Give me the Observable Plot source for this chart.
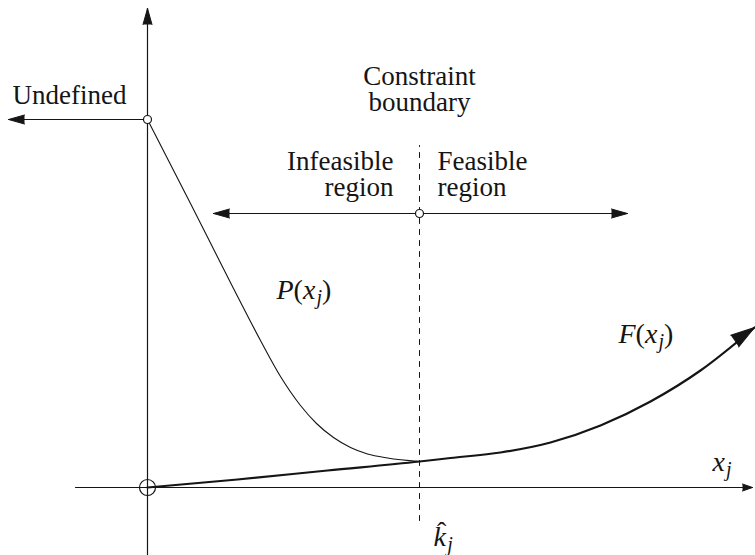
<!DOCTYPE html>
<html>
<head>
<meta charset="utf-8">
<script src="https://cdn.jsdelivr.net/npm/d3@7"></script>
<script src="https://cdn.jsdelivr.net/npm/@observablehq/plot@0.6"></script>
<style>
  body { margin: 0; font-family: 'Liberation Serif', serif; }
</style>
</head>
<body>
<div id="chart"></div>
<script>
// Diagram units: origin of the x_j axis at (0, 0).

// Penalty function P(x_j): falls from the undefined point onto F at the boundary
const penaltyX = [0, 43, 86, 113, 133, 153, 169, 186, 203, 220, 240, 272];
const penaltyY = [368, 284, 199, 147, 111, 82, 64, 50, 40, 33.5, 29.5, 26];

// Objective F(x_j): slow rise, then growing past the boundary
const objectiveX = [0, 90, 180, 272, 303, 353, 403, 453, 503, 553, 607];
const objectiveY = [0, 8, 17, 26, 29.5, 35, 45, 62, 86, 117, 160];

// Axes extents
const xAxisX = [-72, 605];
const yAxisY = [-68, 479];

// Constraint boundary k̂_j and its span
const boundaryX = 272;
const boundaryY = [-33, 342];

// Level of the undefined point and of the feasibility arrow
const undefinedY = 368;
const undefinedTipX = -139;
const regionY = 274;
const regionX = [66, 480];

// Text labels
const plainLabels = [
  {text: "Undefined", x: -135, y: 384, anchor: "start"},
  {text: "Constraint\nboundary", x: 272, y: 377, anchor: "middle"},
  {text: "Infeasible\nregion", x: 246, y: 292, anchor: "end"},
  {text: "Feasible\nregion", x: 290, y: 292, anchor: "start"}
];
const mathLabels = [
  {text: "P(x_j)", x: 129, y: 189},
  {text: "F(x_j)", x: 471, y: 145},
  {text: "x_j", x: 565, y: 17},
  {text: "^k_j", x: 286, y: -58}
];

const penalty = penaltyX.map((x, i) => ({x, y: penaltyY[i]}));
const objective = objectiveX.map((x, i) => ({x, y: objectiveY[i]}));

// Direction of the F arrowhead from the last two curve points (compass degrees)
const last = objective.length - 1;
const fAngle = Math.atan2(objective[last].x - objective[last - 1].x,
                          objective[last].y - objective[last - 1].y) * 180 / Math.PI + 4;

const axisHeads = [
  {x: 0, y: yAxisY[1], rotate: 0},
  {x: undefinedTipX, y: undefinedY, rotate: 270},
  {x: regionX[0], y: regionY, rotate: 270},
  {x: regionX[1], y: regionY, rotate: 90}
];

const ink = "#151515";
const serif = "Liberation Serif, serif";

const chart = Plot.plot({
  width: 755,
  height: 555,
  margin: 0,
  x: {domain: [-147, 608], axis: null},
  y: {domain: [-68, 487], axis: null},
  marks: [
    // axes
    Plot.lineY(xAxisX.map(x => ({x, y: 0})), {x: "x", y: "y", stroke: ink, strokeWidth: 1.2}),
    Plot.lineX(yAxisY.map(y => ({x: 0, y})), {x: "x", y: "y", stroke: ink, strokeWidth: 1.2}),
    // undefined region arrow
    Plot.lineY([0, undefinedTipX].map(x => ({x, y: undefinedY})), {x: "x", y: "y", stroke: ink, strokeWidth: 1.2}),
    // infeasible / feasible arrow
    Plot.lineY(regionX.map(x => ({x, y: regionY})), {x: "x", y: "y", stroke: ink, strokeWidth: 1.2}),
    // constraint boundary
    Plot.lineX(boundaryY.map(y => ({x: boundaryX, y})), {x: "x", y: "y", stroke: ink, strokeWidth: 1, strokeDasharray: "5,6"}),
    // curves
    Plot.line(penalty, {x: "x", y: "y", curve: "monotone-x", stroke: ink, strokeWidth: 1.1}),
    Plot.line(objective, {x: "x", y: "y", curve: "monotone-x", stroke: ink, strokeWidth: 2.2}),
    // arrowheads
    Plot.vector(axisHeads, {x: "x", y: "y", rotate: "rotate", shape: "spike", anchor: "end", length: 16, r: 4.5, fill: ink, stroke: ink, strokeWidth: 1}),
    Plot.vector([{x: xAxisX[1], y: 0, rotate: 90}], {x: "x", y: "y", rotate: "rotate", shape: "spike", anchor: "end", length: 10, r: 3.5, fill: ink, stroke: ink, strokeWidth: 1}),
    Plot.vector([{x: objective[last].x, y: objective[last].y, rotate: fAngle}], {x: "x", y: "y", rotate: "rotate", shape: "spike", anchor: "end", length: 24, r: 7, fill: ink, stroke: ink, strokeWidth: 1}),
    // points
    Plot.dot([{x: 0, y: 0}], {x: "x", y: "y", r: 8, stroke: ink, strokeWidth: 1.2, fill: "none"}),
    Plot.dot([{x: 0, y: undefinedY}, {x: boundaryX, y: regionY}], {x: "x", y: "y", r: 4, stroke: ink, strokeWidth: 1.2, fill: "#fff"}),
    // labels
    ...["start", "middle", "end"].map(a =>
      Plot.text(plainLabels.filter(d => d.anchor === a), {
        x: "x", y: "y", text: "text", textAnchor: a, lineAnchor: "bottom",
        lineHeight: 0.95, fontSize: 27, fill: ink, fontFamily: serif
      })
    ),
    Plot.text(mathLabels, {
      x: "x", y: "y", text: "text", textAnchor: "start", lineAnchor: "bottom",
      fontSize: 28, fill: ink, fontFamily: serif, ariaDescription: "math"
    })
  ]
});

// Typeset math labels: italic letters, upright parentheses, subscripts and hats
function typeset(el) {
  const src = el.textContent;
  el.textContent = "";
  let base = 0;
  const add = (s, {italic = false, size = null, off = 0, dx = 0} = {}) => {
    const t = document.createElementNS("http://www.w3.org/2000/svg", "tspan");
    t.textContent = s;
    if (italic) t.setAttribute("font-style", "italic");
    if (size) t.setAttribute("font-size", size);
    if (off !== base) t.setAttribute("dy", off - base);
    if (dx) t.setAttribute("dx", dx);
    base = off;
    el.appendChild(t);
  };
  for (let i = 0; i < src.length; i++) {
    const c = src[i];
    if (c === "_") add(src[++i], {italic: true, size: 20, off: 5, dx: 1});
    else if (c === "^") {
      add(src[++i], {italic: true});
      add("\u02C6", {off: -5, dx: -9});
    } else if (/[A-Za-z]/.test(c)) add(c, {italic: true});
    else add(c);
  }
}
chart.querySelectorAll('g[aria-description="math"] text').forEach(typeset);

// Serif face carried inside the SVG itself
chart.setAttribute("font-family", serif);
const sheet = document.createElementNS("http://www.w3.org/2000/svg", "style");
sheet.textContent = "text, tspan { font-family: 'Liberation Serif', serif !important; }";
chart.insertBefore(sheet, chart.firstChild);
chart.querySelectorAll("text, tspan").forEach(el => el.setAttribute("font-family", serif));

document.getElementById("chart").appendChild(chart);
</script>
</body>
</html>
